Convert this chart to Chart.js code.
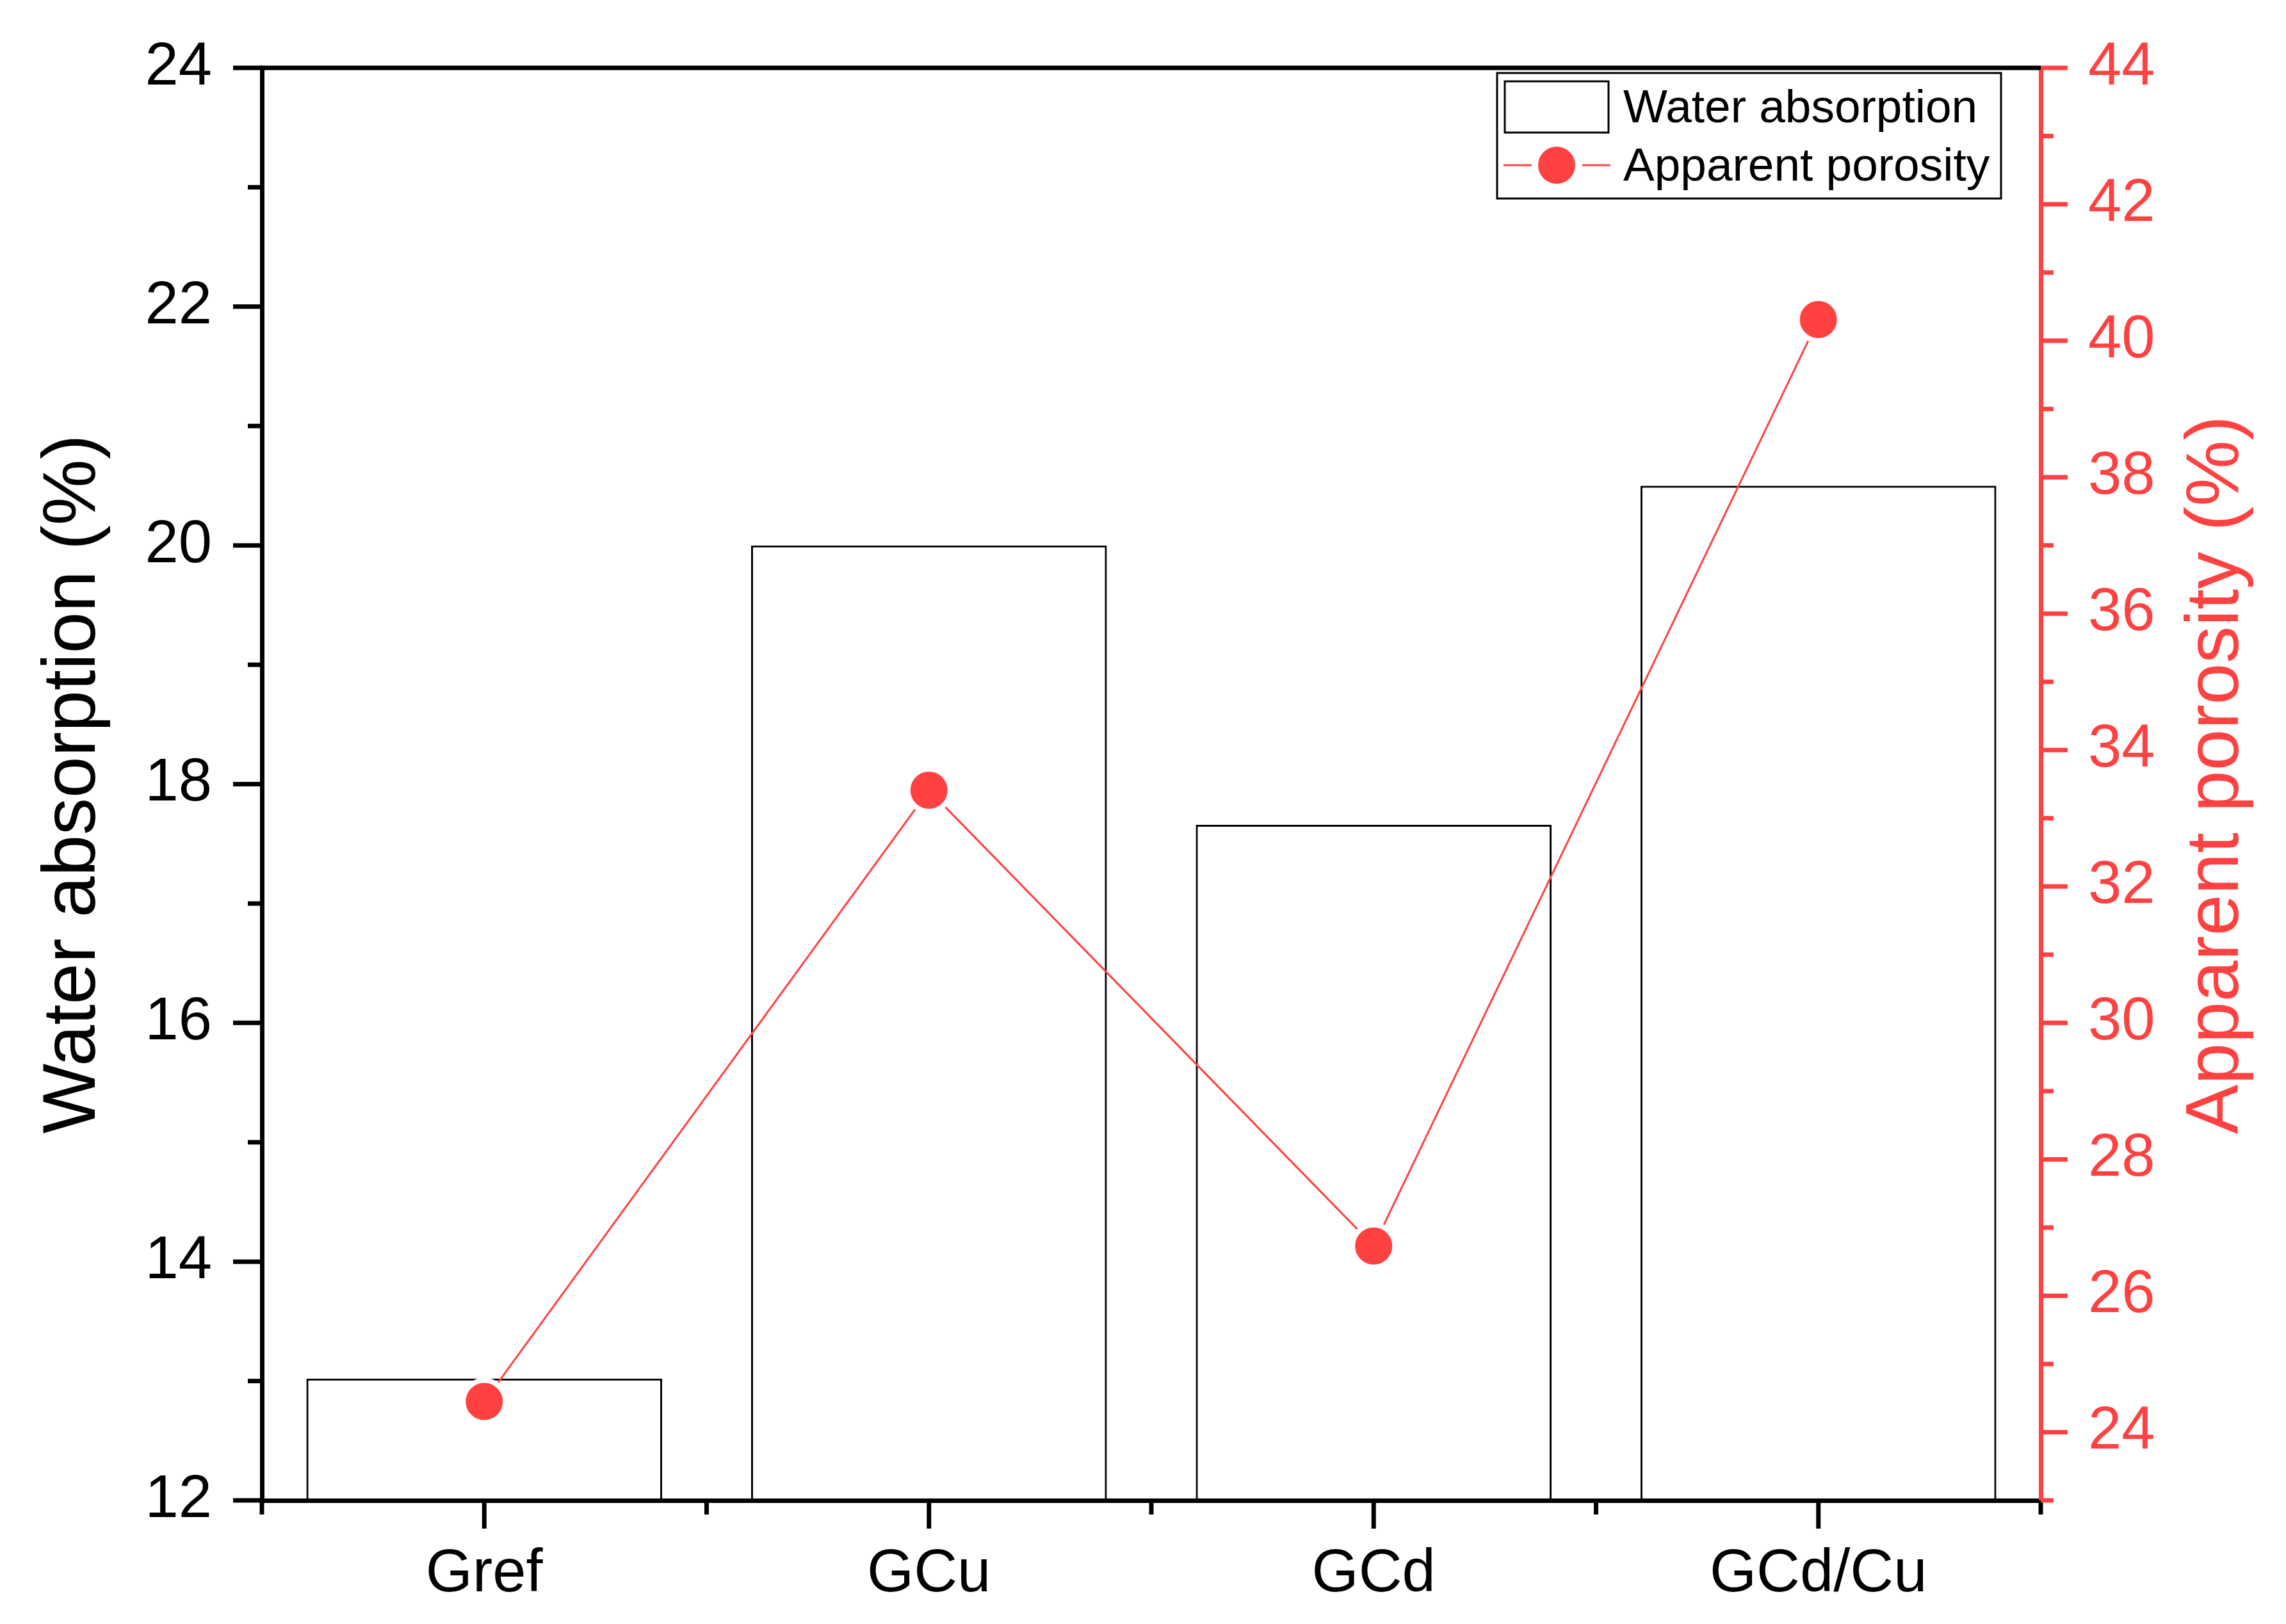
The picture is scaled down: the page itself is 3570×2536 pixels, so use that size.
<!DOCTYPE html>
<html>
<head>
<meta charset="utf-8">
<script src="https://cdn.jsdelivr.net/npm/chart.js@4.4.0/dist/chart.umd.min.js"></script>
<style>
  html, body { margin: 0; padding: 0; background: #fff; }
  canvas { display: block; }
</style>
</head>
<body>
<canvas id="canvas" width="3570" height="2536"></canvas>
<script>
const categories = ['Gref', 'GCu', 'GCd', 'GCd/Cu'];
const waterAbsorption = [13.02, 20.0, 17.66, 20.5];
const apparentPorosity = [24.45, 33.41, 26.73, 40.31];
const leftTicks = [12, 14, 16, 18, 20, 22, 24];
const leftMinor = [13, 15, 17, 19, 21, 23];
const rightTicks = [24, 26, 28, 30, 32, 34, 36, 38, 40, 42, 44];
const rightMinor = [23, 25, 27, 29, 31, 33, 35, 37, 39, 41, 43];

const red = '#ff4141';
const fam = "'Liberation Sans', Arial, sans-serif";

// origin-style outward ticks, top frame line, right title, legend box
const decor = {
  id: 'decor',
  afterDraw(chart) {
    const ctx = chart.ctx;
    const a = chart.chartArea;
    const x = chart.scales.x, y = chart.scales.y, y2 = chart.scales.y2;
    ctx.save();
    ctx.lineWidth = 7;
    ctx.lineCap = 'butt';

    // top line
    ctx.strokeStyle = '#000';
    ctx.beginPath();
    ctx.moveTo(a.left - 3.5, a.top);
    ctx.lineTo(a.right, a.top);
    ctx.stroke();

    // left ticks
    function hTick(px, x0, len) {
      ctx.beginPath();
      ctx.moveTo(x0, px);
      ctx.lineTo(x0 + len, px);
      ctx.stroke();
    }
    leftTicks.forEach(v => hTick(y.getPixelForValue(v), a.left, -45));
    leftMinor.forEach(v => hTick(y.getPixelForValue(v), a.left, -22));

    // bottom ticks
    function vTick(px, len) {
      ctx.beginPath();
      ctx.moveTo(px, a.bottom);
      ctx.lineTo(px, a.bottom + len);
      ctx.stroke();
    }
    categories.forEach((c, i) => vTick(x.getPixelForValue(i), 44));
    for (let i = 0; i <= categories.length; i++) vTick(x.getPixelForValue(i - 0.5), 22);

    // right ticks
    ctx.strokeStyle = red;
    rightTicks.forEach(v => hTick(y2.getPixelForValue(v), a.right, 42));
    rightMinor.forEach(v => hTick(y2.getPixelForValue(v), a.right, 20));

    // right title, reading bottom to top
    ctx.fillStyle = red;
    ctx.font = '116px ' + fam;
    ctx.textAlign = 'center';
    ctx.textBaseline = 'alphabetic';
    ctx.save();
    ctx.translate(3495, 1210);
    ctx.rotate(-Math.PI / 2);
    ctx.fillText('Apparent porosity (%)', 0, 0);
    ctx.restore();

    // legend
    const bars = chart.data.datasets.find(d => d.type === 'bar');
    const line = chart.data.datasets.find(d => d.type === 'line');
    ctx.lineWidth = 3;
    ctx.strokeStyle = '#000';
    ctx.strokeRect(2338, 114, 787, 196);
    ctx.strokeRect(2350, 127, 162, 80);
    ctx.strokeStyle = red;
    ctx.beginPath();
    ctx.moveTo(2348, 258); ctx.lineTo(2392, 258);
    ctx.moveTo(2471, 258); ctx.lineTo(2515, 258);
    ctx.stroke();
    ctx.fillStyle = red;
    ctx.beginPath();
    ctx.arc(2431, 258, 29, 0, Math.PI * 2);
    ctx.fill();
    ctx.fillStyle = '#000';
    ctx.font = '73px ' + fam;
    ctx.textAlign = 'left';
    ctx.fillText(bars.label, 2535, 191);
    ctx.fillText(line.label, 2535, 282);
    ctx.restore();
  }
};

function noPad(s) {
  s.paddingTop = 0; s.paddingBottom = 0; s.paddingLeft = 0; s.paddingRight = 0;
}

const ctx = document.getElementById('canvas').getContext('2d');
const myChart = new Chart(ctx, {
  data: {
    labels: categories,
    datasets: [{
      type: 'line',
      label: 'Apparent porosity',
      data: apparentPorosity,
      yAxisID: 'y2',
      order: 0,
      borderColor: red,
      borderWidth: 3,
      pointRadius: 33,
      pointBorderWidth: 8,
      pointBorderColor: '#fff',
      pointBackgroundColor: red,
      tension: 0
    }, {
      type: 'bar',
      label: 'Water absorption',
      data: waterAbsorption,
      yAxisID: 'y',
      order: 1,
      backgroundColor: 'rgba(0,0,0,0)',
      borderColor: '#000',
      borderWidth: 3,
      borderSkipped: false,
      barPercentage: 0.8,
      categoryPercentage: 1.0
    }]
  },
  options: {
    responsive: false,
    devicePixelRatio: 1,
    animation: false,
    events: [],
    layout: { padding: { top: 106, left: 0, right: 0, bottom: 0 } },
    plugins: { legend: { display: false }, tooltip: { enabled: false } },
    scales: {
      x: {
        grid: { display: false, drawTicks: false },
        border: { display: true, color: '#000', width: 7 },
        ticks: { color: '#000', font: { family: fam, size: 94 }, padding: 60, maxRotation: 0 },
        afterFit(s) { s.height = 193; noPad(s); }
      },
      y: {
        position: 'left',
        min: 12, max: 24,
        grid: { display: false, drawTicks: false },
        border: { display: true, color: '#000', width: 7 },
        ticks: { color: '#000', font: { family: fam, size: 94 }, padding: 78 },
        afterBuildTicks(s) { s.ticks = leftTicks.map(v => ({ value: v })); },
        title: { display: true, text: 'Water absorption (%)', color: '#000', font: { family: fam, size: 116 }, padding: { top: 46, bottom: 0 } },
        afterFit(s) { s.width = 409; noPad(s); }
      },
      y2: {
        position: 'right',
        min: 23, max: 44,
        grid: { display: false, drawTicks: false },
        border: { display: true, color: red, width: 7 },
        ticks: { color: red, font: { family: fam, size: 94 }, padding: 74 },
        afterBuildTicks(s) { s.ticks = rightTicks.map(v => ({ value: v })); },
        afterFit(s) { s.width = 383; noPad(s); }
      }
    }
  },
  plugins: [decor]
});
</script>
</body>
</html>
